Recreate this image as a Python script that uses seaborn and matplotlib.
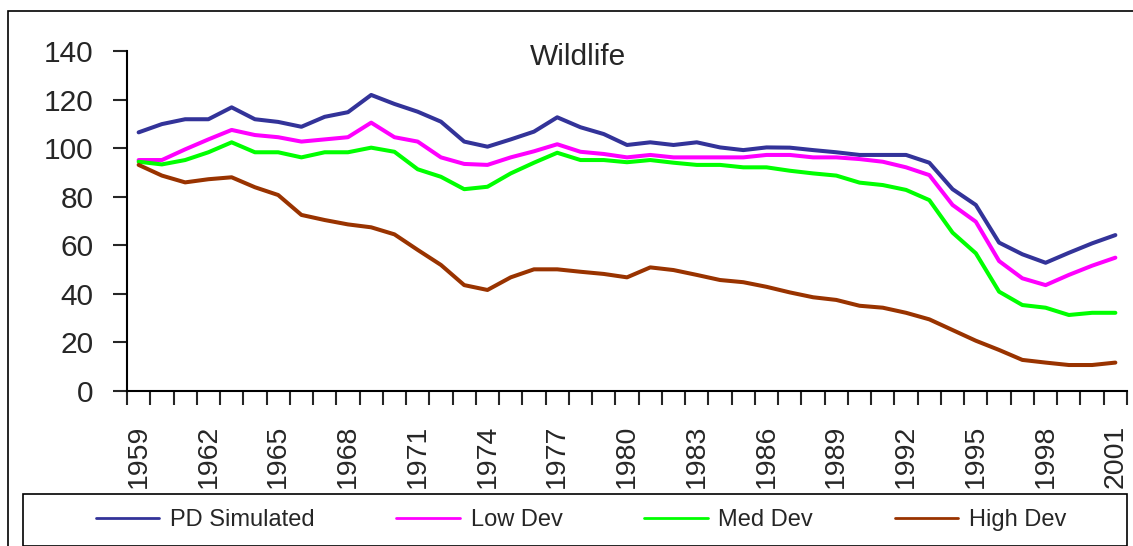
import numpy as np
import pandas as pd
import seaborn as sns
from matplotlib import pyplot as plt
from matplotlib.lines import Line2D
from matplotlib.patches import Rectangle
from matplotlib.ticker import FixedLocator

years = list(range(1959, 2002))
pd_simulated = [106.5, 109.9, 111.9, 111.9, 116.8, 111.9, 110.8, 108.8, 112.9, 114.8,
                121.9, 118.2, 115.0, 110.9, 102.7, 100.6, 103.6, 106.8, 112.7, 108.6,
                105.8, 101.3, 102.4, 101.3, 102.4, 100.3, 99.2, 100.3, 100.2, 99.2,
                98.3, 97.2, 97.2, 97.2, 94.0, 83.1, 76.6, 61.1, 56.3, 52.8,
                56.9, 60.8, 64.2]
low_dev = [95.1, 95.1, 99.5, 103.6, 107.5, 105.4, 104.5, 102.7, 103.6, 104.5,
           110.5, 104.5, 102.7, 96.2, 93.5, 93.1, 96.2, 98.7, 101.6, 98.5,
           97.6, 96.2, 97.2, 96.2, 96.2, 96.2, 96.2, 97.2, 97.2, 96.2,
           96.2, 95.5, 94.4, 92.1, 88.9, 76.6, 69.7, 53.5, 46.4, 43.6,
           47.8, 51.6, 54.9]
med_dev = [94.4, 93.3, 95.1, 98.3, 102.4, 98.3, 98.3, 96.2, 98.3, 98.3,
           100.2, 98.5, 91.3, 88.2, 83.1, 84.1, 89.6, 94.0, 98.1, 95.1,
           95.1, 94.2, 95.1, 94.0, 93.1, 93.1, 92.1, 92.1, 90.7, 89.6,
           88.7, 85.8, 84.8, 82.8, 78.6, 65.2, 56.7, 40.9, 35.4, 34.3,
           31.3, 32.2, 32.2]
high_dev = [93.1, 88.7, 85.9, 87.2, 88.0, 83.9, 80.7, 72.5, 70.4, 68.6,
            67.4, 64.5, 58.1, 51.9, 43.6, 41.6, 46.8, 50.1, 50.1, 49.1,
            48.2, 46.8, 50.9, 49.8, 47.8, 45.7, 44.8, 42.9, 40.6, 38.6,
            37.5, 35.1, 34.3, 32.2, 29.5, 25.1, 20.7, 16.9, 12.8, 11.7,
            10.7, 10.7, 11.7]

series_names = ['PD Simulated', 'Low Dev', 'Med Dev', 'High Dev']
series_colors = ['#333399', '#FF00FF', '#00FF00', '#993300']

# tabla larga para seaborn
n = len(years)
df = pd.DataFrame({
    'idx': list(range(n)) * 4,
    'valor': pd_simulated + low_dev + med_dev + high_dev,
    'serie': [s for s in series_names for _ in range(n)],
})

sns.set_style('white')
plt.rcParams['font.family'] = ['Liberation Sans', 'DejaVu Sans']

W, H = 1133, 546
fig = plt.figure(figsize=(W / 100, H / 100), dpi=100)
ax = fig.add_axes([127 / W, 1 - 391 / H, 1000 / W, 340 / H])

sns.lineplot(data=df, x='idx', y='valor', hue='serie', hue_order=series_names,
             palette=series_colors, linewidth=2.9, legend=False, ax=ax)

ax.set_xlim(-0.5, n - 0.5)
ax.set_ylim(0, 140)
ax.set_yticks(range(0, 141, 20))
ax.set_xticks(range(0, n, 3))
ax.set_xticklabels([str(y) for y in years[::3]], rotation=90)
ax.xaxis.set_minor_locator(FixedLocator(np.arange(-0.5, n, 1.0)))
ax.tick_params(axis='x', which='major', length=0, pad=24, labelsize=20.5)
ax.tick_params(axis='x', which='minor', length=10, width=1.5, direction='out', bottom=True)
ax.tick_params(axis='y', length=10, width=1.5, direction='out', pad=14, labelsize=21.5, left=True)
ax.set_xlabel('')
ax.set_ylabel('')
for s in ['top', 'right']:
    ax.spines[s].set_visible(False)
for s in ['left', 'bottom']:
    ax.spines[s].set_color('black')
    ax.spines[s].set_linewidth(1.5)

fig.text(578 / W, 1 - 57 / H, 'Wildlife', fontsize=21.5, ha='center', va='center')

# marco exterior y caja de la leyenda
fig.patches.append(Rectangle((8 / W, -0.1), 2, 1 - 11 / H + 0.1, transform=fig.transFigure,
                             fill=False, ec='black', lw=1.2, zorder=0))
fig.patches.append(Rectangle((23 / W, 0), 1104 / W, (546 - 494) / H, transform=fig.transFigure,
                             fc='white', ec='black', lw=1.2, zorder=5))

handles = [Line2D([], [], color=c, lw=2) for c in series_colors]
leg = fig.legend(handles, series_names, loc='center', bbox_to_anchor=(581 / W, 1 - 520 / H),
                 ncol=4, frameon=False, fontsize=17, handlelength=2.7, handletextpad=0.45,
                 columnspacing=3.45)
leg.set_zorder(10)

fig.savefig('out.png', dpi=100)
